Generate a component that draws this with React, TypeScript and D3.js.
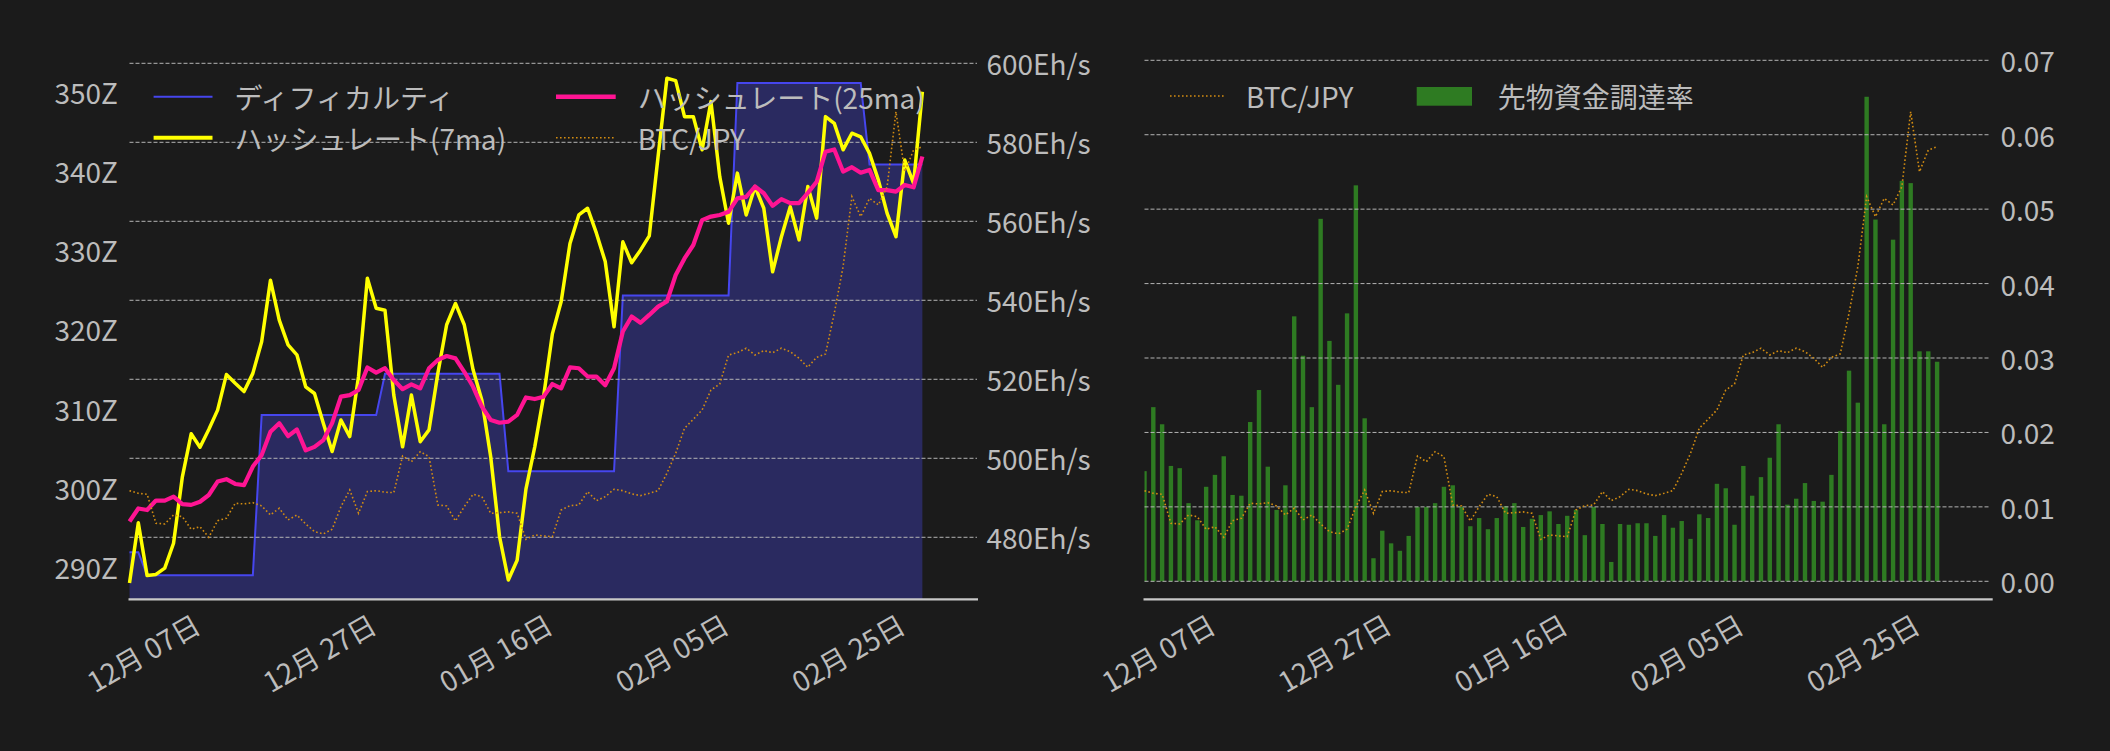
import React, { useEffect, useRef } from "react";
import * as d3 from "d3";

// --- data (daily, 2023-11-30 .. 2024-02-28) ---
const startDate = new Date(Date.UTC(2023, 10, 30));

const difficulty: number[] = [
    291.9, 291.9,
    289.0, 289.0, 289.0, 289.0, 289.0, 289.0, 289.0, 289.0, 289.0, 289.0, 289.0, 289.0, 289.0,
    309.2, 309.2, 309.2, 309.2, 309.2, 309.2, 309.2, 309.2, 309.2, 309.2, 309.2, 309.2, 309.2, 309.2,
    314.4, 314.4, 314.4, 314.4, 314.4, 314.4, 314.4, 314.4, 314.4, 314.4, 314.4, 314.4, 314.4, 314.4,
    302.1, 302.1, 302.1, 302.1, 302.1, 302.1, 302.1, 302.1, 302.1, 302.1, 302.1, 302.1, 302.1,
    324.3, 324.3, 324.3, 324.3, 324.3, 324.3, 324.3, 324.3, 324.3, 324.3, 324.3, 324.3, 324.3,
    351.1, 351.1, 351.1, 351.1, 351.1, 351.1, 351.1, 351.1, 351.1, 351.1, 351.1, 351.1, 351.1, 351.1, 351.1,
    340.8, 340.8, 340.8, 340.8, 340.8, 340.8, 340.8
];

const hash7ma: number[] = [
    468.4, 483.7, 470.3, 470.6, 472.2, 478.5, 495.3, 506.2, 502.8, 507.3,
    512.2, 521.2, 519.0, 516.9, 521.5, 529.5, 545.1, 535.0, 528.7, 526.2,
    518.1, 516.4, 508.9, 501.7, 509.7, 505.5, 520.8, 545.6, 538.0, 537.5,
    516.0, 502.9, 516.0, 504.2, 507.2, 521.5, 533.8, 539.2, 533.8, 522.4,
    514.7, 500.4, 480.2, 469.2, 474.2, 492.2, 502.9, 515.6, 531.5, 539.7,
    554.4, 561.6, 563.3, 557.0, 549.8, 533.3, 554.8, 549.5, 552.7, 556.3,
    576.4, 596.2, 595.6, 586.5, 586.5, 578.1, 590.3, 571.3, 559.5, 572.2,
    561.6, 568.8, 563.3, 547.2, 556.1, 563.7, 555.3, 568.8, 560.8, 586.5,
    584.8, 578.1, 582.3, 581.4, 577.2, 570.5, 562.0, 556.1, 575.5, 569.6,
    592.8
];

const hash25ma: number[] = [
    484.0, 487.3, 486.9, 489.3, 489.3, 490.3, 488.4, 488.2, 489.0, 490.7,
    494.1, 494.7, 493.5, 493.2, 497.9, 500.8, 506.7, 508.9, 505.6, 507.3,
    502.0, 502.9, 504.6, 508.9, 515.6, 516.0, 517.3, 523.0, 521.7, 522.8,
    519.8, 517.5, 518.7, 517.7, 522.8, 524.9, 525.9, 525.3, 521.9, 518.1,
    513.1, 509.7, 509.0, 509.3, 511.0, 515.4, 515.0, 515.6, 518.8, 517.7,
    523.0, 522.8, 520.7, 520.7, 518.5, 522.8, 532.1, 535.9, 534.3, 536.3,
    538.4, 539.7, 546.4, 550.6, 554.0, 560.3, 561.2, 561.6, 562.4, 565.8,
    566.2, 568.8, 567.1, 563.9, 565.6, 564.6, 564.6, 567.2, 570.0, 577.6,
    578.2, 572.6, 573.7, 572.3, 573.0, 567.9, 567.9, 567.5, 569.2, 568.6,
    576.4
];

// BTC/JPY (万円)
const btcJpy: number[] = [
    600.0, 597.5, 596.6, 569.0, 568.4, 576.9, 575.3, 563.3, 565.8, 555.7,
    571.5, 573.8, 588.0, 587.4, 588.6, 585.5, 576.9, 583.3, 572.2, 576.9,
    568.4, 561.1, 558.9, 563.3, 584.8, 600.7, 578.5, 599.1, 600.0, 598.5,
    598.1, 633.0, 627.5, 637.0, 632.3, 586.4, 585.5, 571.2, 584.8, 596.6,
    594.3, 578.5, 579.1, 579.8, 578.5, 553.8, 557.9, 557.0, 556.3, 581.7,
    585.8, 586.4, 599.1, 590.5, 594.3, 601.3, 600.0, 596.9, 595.3, 597.5,
    600.0, 616.5, 635.5, 659.3, 667.8, 676.7, 695.6, 701.3, 728.9, 731.1,
    735.3, 728.9, 733.0, 731.1, 735.3, 732.0, 725.8, 717.2, 726.7, 729.8,
    768.5, 812.8, 879.3, 860.3, 877.7, 871.4, 888.8, 960.0, 903.0, 923.6,
    926.7
];

const fundingRate: number[] = [
    0.0148, 0.0234, 0.0211, 0.0155, 0.0152, 0.0105, 0.0082, 0.0127, 0.0143, 0.0168,
    0.0116, 0.0115, 0.0214, 0.0257, 0.0154, 0.0096, 0.0129, 0.0356, 0.0303, 0.0234,
    0.0487, 0.0323, 0.0264, 0.0360, 0.0532, 0.0219, 0.0031, 0.0068, 0.0051, 0.0041,
    0.0061, 0.0100, 0.0100, 0.0105, 0.0127, 0.0129, 0.0100, 0.0074, 0.0085, 0.0070,
    0.0085, 0.0101, 0.0105, 0.0073, 0.0084, 0.0089, 0.0094, 0.0077, 0.0088, 0.0096,
    0.0062, 0.0100, 0.0077, 0.0026, 0.0077, 0.0076, 0.0078, 0.0078, 0.0061, 0.0089,
    0.0072, 0.0081, 0.0057, 0.0090, 0.0085, 0.0131, 0.0125, 0.0076, 0.0155, 0.0115,
    0.0140, 0.0166, 0.0211, 0.0103, 0.0111, 0.0132, 0.0108, 0.0107, 0.0143, 0.0202,
    0.0283, 0.0240, 0.0651, 0.0486, 0.0211, 0.0459, 0.0538, 0.0535, 0.0309, 0.0309,
    0.0295
];

const dates = difficulty.map((_, i) => d3.utcDay.offset(startDate, i));

const tickDates = ["2023-12-07", "2023-12-27", "2024-01-16", "2024-02-05", "2024-02-25"]
    .map(s => new Date(s + "T00:00:00Z"));
const diffTicks = [290, 300, 310, 320, 330, 340, 350];
const hashTicks = [480, 500, 520, 540, 560, 580, 600];
const fundingTicks = [0, 0.01, 0.02, 0.03, 0.04, 0.05, 0.06, 0.07];

const W = 2110;
const H = 751;
const BG = "#1b1b1b";
const TEXT = "#bcbcbc";
const FONT = '"Noto Sans CJK JP", "Noto Sans", sans-serif';
const FS = 28;

const COL_DIFF = "#4646ee";
const COL_FILL = "#2a2a60";
const COL_7MA = "#ffff00";
const COL_25MA = "#ff1493";
const COL_BTC = "#d28c12";
const COL_BAR = "#2e7b22";

export default function App() {
    const svgRef = useRef<SVGSVGElement | null>(null);

    function drawChart(svgNode: SVGSVGElement) {
        const svg = d3.select(svgNode);
        svg.selectAll("*").remove();

        svg.append("rect").attr("width", W).attr("height", H).attr("fill", BG);

        const top = 40;
        const bottom = 599.3;
        const xEnd = new Date(startDate.getTime() + 96.2 * 864e5);
        const fmt = d3.utcFormat("%m月 %d日");

        // hidden BTC/JPY scale, shared by both panels
        const yBtc = d3.scaleLinear().domain([496.8, 1028.1]).range([bottom, top]);

        function grid(g: d3.Selection<SVGGElement, unknown, null, undefined>, ys: number[], x1: number, x2: number) {
            g.selectAll("line.grid")
                .data(ys)
                .join("line")
                .attr("class", "grid")
                .attr("x1", x1).attr("x2", x2)
                .attr("y1", d => d).attr("y2", d => d)
                .attr("stroke", "#b4b4b4")
                .attr("stroke-width", 1)
                .attr("stroke-dasharray", "4 2");
        }

        function xAxis(g: d3.Selection<SVGGElement, unknown, null, undefined>, x: d3.ScaleTime<number, number>) {
            const [x1, x2] = x.range();
            g.append("line")
                .attr("x1", x1 - 1).attr("x2", x2 + 1)
                .attr("y1", bottom).attr("y2", bottom)
                .attr("stroke", "#c8c8c8")
                .attr("stroke-width", 2.2);
            g.selectAll("text.xt")
                .data(tickDates)
                .join("text")
                .attr("class", "xt")
                .attr("transform", d => `translate(${x(d)},${bottom + 12}) rotate(-30)`)
                .attr("text-anchor", "end")
                .attr("dy", "0.82em")
                .attr("fill", TEXT)
                .attr("font-family", FONT)
                .attr("font-size", FS)
                .text(d => fmt(d));
        }

        function legendLine(g: d3.Selection<SVGGElement, unknown, null, undefined>,
            x1: number, x2: number, y: number, color: string, width: number, label: string, dash?: string) {
            const l = g.append("line")
                .attr("x1", x1).attr("x2", x2)
                .attr("y1", y).attr("y2", y)
                .attr("stroke", color)
                .attr("stroke-width", width);
            if (dash) l.attr("stroke-dasharray", dash);
            g.append("text")
                .attr("x", x2 + 22).attr("y", y)
                .attr("dominant-baseline", "central")
                .attr("fill", TEXT)
                .attr("font-family", FONT)
                .attr("font-size", FS)
                .text(label);
        }

        // ---------------- left panel ----------------
        const xL = d3.scaleUtc().domain([startDate, xEnd]).range([129.5, 977]);
        const yDiff = d3.scaleLinear().domain([285.96, 356.52]).range([bottom, top]);
        const yHash = d3.scaleLinear().domain([464.3, 605.9]).range([bottom, top]);

        const left = svg.append("g");

        const area = d3.area<number>()
            .x((_, i) => xL(dates[i]))
            .y0(bottom)
            .y1(d => yDiff(d));
        left.append("path")
            .attr("d", area(difficulty)!)
            .attr("fill", COL_FILL);

        const diffLine = d3.line<number>()
            .x((_, i) => xL(dates[i]))
            .y(d => yDiff(d));
        left.append("path")
            .attr("d", diffLine(difficulty)!)
            .attr("fill", "none")
            .attr("stroke", COL_DIFF)
            .attr("stroke-width", 2);

        grid(left, hashTicks.map(t => yHash(t)), 129.5, 977);

        const hashLine = d3.line<number>()
            .x((_, i) => xL(dates[i]))
            .y(d => yHash(d));
        left.append("path")
            .attr("d", hashLine(hash7ma)!)
            .attr("fill", "none")
            .attr("stroke", COL_7MA)
            .attr("stroke-width", 3.5)
            .attr("stroke-linejoin", "round");
        left.append("path")
            .attr("d", hashLine(hash25ma)!)
            .attr("fill", "none")
            .attr("stroke", COL_25MA)
            .attr("stroke-width", 4.2)
            .attr("stroke-linejoin", "round");

        const btcLineL = d3.line<number>()
            .x((_, i) => xL(dates[i]))
            .y(d => yBtc(d));
        left.append("path")
            .attr("d", btcLineL(btcJpy)!)
            .attr("fill", "none")
            .attr("stroke", COL_BTC)
            .attr("stroke-width", 1.6)
            .attr("stroke-dasharray", "1.6 2.4");

        // left axis (difficulty)
        left.selectAll("text.yl")
            .data(diffTicks)
            .join("text")
            .attr("class", "yl")
            .attr("x", 118)
            .attr("y", d => yDiff(d))
            .attr("text-anchor", "end")
            .attr("dominant-baseline", "central")
            .attr("fill", TEXT)
            .attr("font-family", FONT)
            .attr("font-size", FS)
            .text(d => `${d}Z`);

        // right axis (hashrate)
        left.selectAll("text.yr")
            .data(hashTicks)
            .join("text")
            .attr("class", "yr")
            .attr("x", 986.5)
            .attr("y", d => yHash(d))
            .attr("dominant-baseline", "central")
            .attr("fill", TEXT)
            .attr("font-family", FONT)
            .attr("font-size", FS)
            .text(d => `${d}Eh/s`);

        xAxis(left, xL);

        legendLine(left, 153.6, 212.5, 96.7, COL_DIFF, 2, "ディフィカルティ");
        legendLine(left, 153.6, 212.5, 137.7, COL_7MA, 4, "ハッシュレート(7ma)");
        legendLine(left, 556, 615.7, 96.7, COL_25MA, 4.5, "ハッシュレート(25ma)");
        legendLine(left, 556, 615.7, 137.7, COL_BTC, 1.6, "BTC/JPY", "1.6 2.4");

        // ---------------- right panel ----------------
        const xR = d3.scaleUtc().domain([startDate, xEnd]).range([1144.5, 1991.7]);
        const yFund = d3.scaleLinear().domain([-0.002418, 0.072727]).range([bottom, top]);

        const right = svg.append("g");

        right.append("clipPath")
            .attr("id", "clip-right")
            .append("rect")
            .attr("x", 1144.5).attr("y", top)
            .attr("width", 1991.7 - 1144.5).attr("height", bottom - top);

        const barW = xR(d3.utcHour.offset(startDate, 12)) - xR(startDate);
        right.append("g")
            .attr("clip-path", "url(#clip-right)")
            .selectAll("rect")
            .data(fundingRate)
            .join("rect")
            .attr("x", (_, i) => xR(dates[i]) - barW / 2)
            .attr("y", d => yFund(d))
            .attr("width", barW)
            .attr("height", d => yFund(0) - yFund(d))
            .attr("fill", COL_BAR);

        grid(right, fundingTicks.map(t => yFund(t)), 1144.5, 1990);

        const btcLineR = d3.line<number>()
            .x((_, i) => xR(dates[i]))
            .y(d => yBtc(d));
        right.append("path")
            .attr("d", btcLineR(btcJpy)!)
            .attr("fill", "none")
            .attr("stroke", COL_BTC)
            .attr("stroke-width", 1.6)
            .attr("stroke-dasharray", "1.6 2.4");

        right.selectAll("text.yr")
            .data(fundingTicks)
            .join("text")
            .attr("class", "yr")
            .attr("x", 2000.5)
            .attr("y", d => yFund(d))
            .attr("dominant-baseline", "central")
            .attr("fill", TEXT)
            .attr("font-family", FONT)
            .attr("font-size", FS)
            .text(d => d.toFixed(2));

        xAxis(right, xR);

        legendLine(right, 1170, 1224, 96, COL_BTC, 1.6, "BTC/JPY", "1.6 2.4");
        right.append("rect")
            .attr("x", 1416.7).attr("y", 87)
            .attr("width", 55.3).attr("height", 18.7)
            .attr("fill", COL_BAR);
        right.append("text")
            .attr("x", 1497.7).attr("y", 96)
            .attr("dominant-baseline", "central")
            .attr("fill", TEXT)
            .attr("font-family", FONT)
            .attr("font-size", FS)
            .text("先物資金調達率");
    }

    useEffect(() => {
        if (!svgRef.current) return;
        drawChart(svgRef.current);
    }, []);

    return (
        <div style={{ position: "absolute", left: 0, top: 0, width: W, height: H, background: BG }}>
            <svg
                ref={svgRef}
                width={W}
                height={H}
                viewBox={`0 0 ${W} ${H}`}
                style={{ display: "block" }}
            />
        </div>
    );
}
